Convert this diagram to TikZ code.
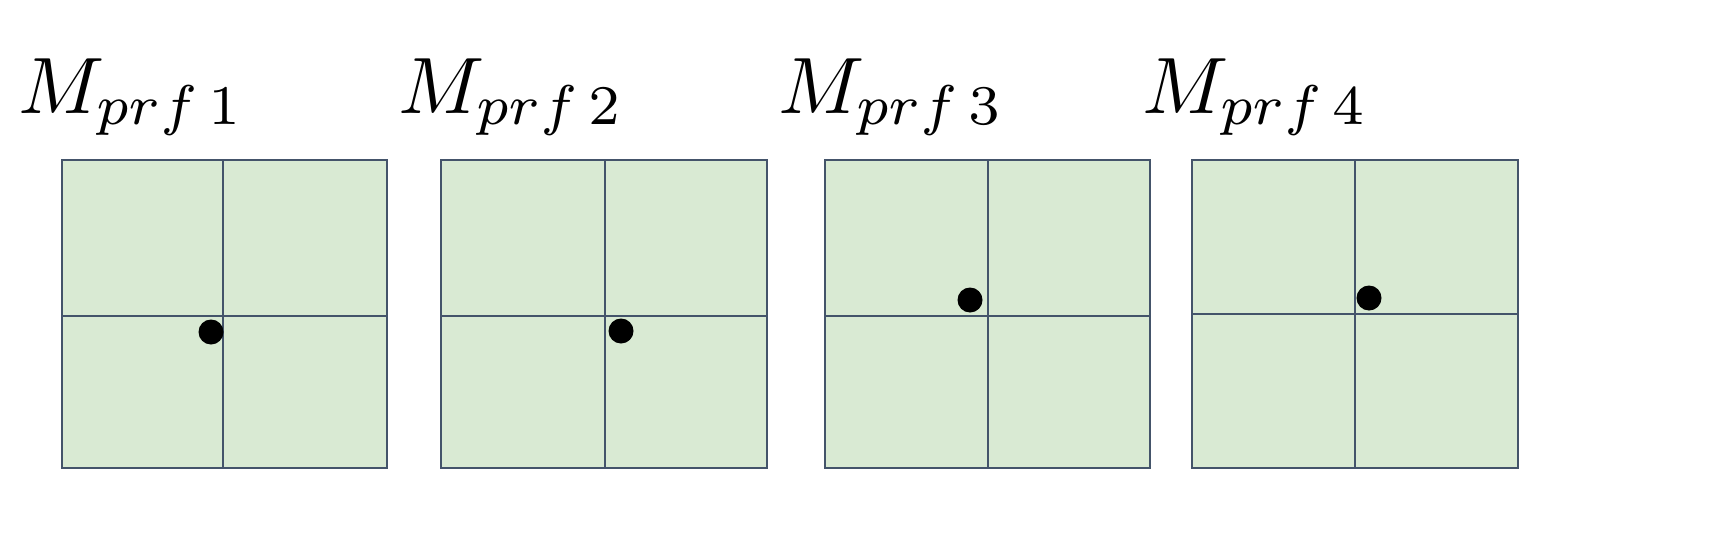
\documentclass[tikz,border=0pt]{standalone}
\begin{document}
\begin{tikzpicture}[x=0.5pt,y=-0.5pt,
  cell/.style={draw=gridline,fill=cellfill,line width=1.4pt},
  dot/.style={circle,fill=black,inner sep=0pt,minimum size=12.5pt},
  lab/.style={anchor=base west,inner sep=0pt}]
\definecolor{gridline}{HTML}{44546A}
\definecolor{cellfill}{HTML}{D9EAD3}
\useasboundingbox (0,0) rectangle (1713,557);
\foreach \n/\l/\m/\r/\my/\dx/\dy/\lx in {1/62/223/387/316/211/332/18, 2/441/605/767/316/621/331/398, 3/825/988/1150/316/970/300/778, 4/1192/1355/1518/314/1369/298/1142}{
  \path[cell] (\l,160) rectangle (\r,468);
  \draw[draw=gridline,line width=1.4pt] (\m,160) -- (\m,468) (\l,\my) -- (\r,\my);
  \node[dot] (d\n) at (\dx,\dy) {};
  \node[lab] (m\n) at (\lx,113) {\scalebox{4}{$M_{prf\,\n}$}};
}
\end{tikzpicture}
\end{document}
